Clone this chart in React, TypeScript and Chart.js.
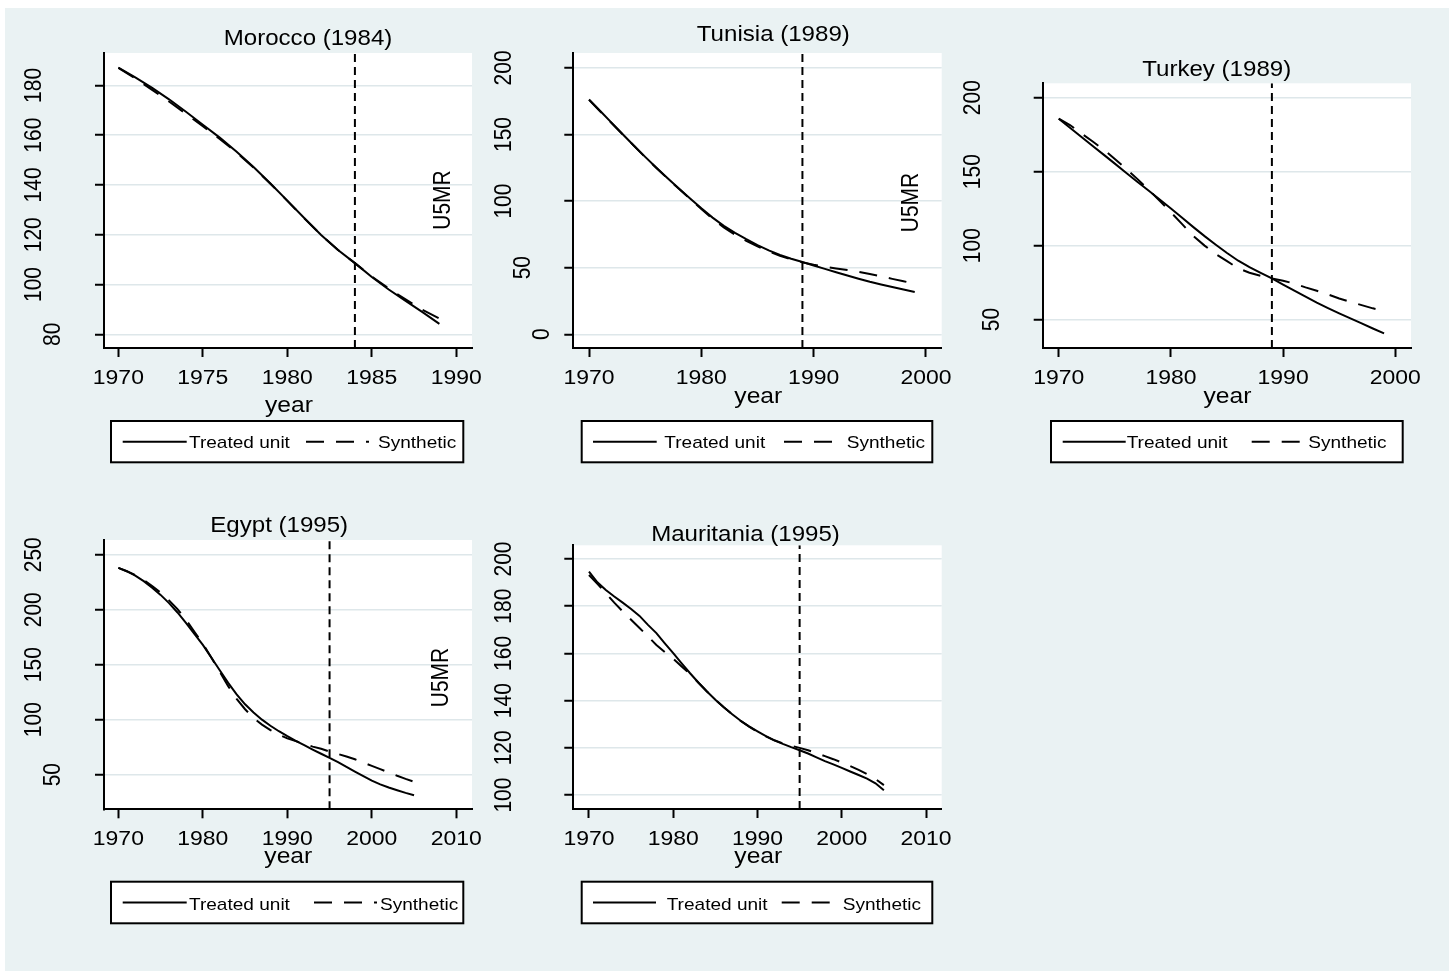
import React, { useEffect, useRef } from "react";
import { Chart, registerables } from "chart.js";

Chart.register(...registerables);

// ---------------- data ----------------
const yearsTo1989 = [1970, 1971, 1972, 1973, 1974, 1975, 1976, 1977, 1978, 1979, 1980, 1981, 1982, 1983, 1984, 1985, 1986, 1987, 1988, 1989];
const yearsTo1999 = [1970, 1971, 1972, 1973, 1974, 1975, 1976, 1977, 1978, 1979, 1980, 1981, 1982, 1983, 1984, 1985, 1986, 1987, 1988, 1989, 1990, 1991, 1992, 1993, 1994, 1995, 1996, 1997, 1998, 1999];
const yearsTo2005 = [1970, 1971, 1972, 1973, 1974, 1975, 1976, 1977, 1978, 1979, 1980, 1981, 1982, 1983, 1984, 1985, 1986, 1987, 1988, 1989, 1990, 1991, 1992, 1993, 1994, 1995, 1996, 1997, 1998, 1999, 2000, 2001, 2002, 2003, 2004, 2005];

const moroccoTreated = [187.1, 183.2, 179.0, 174.4, 169.4, 164.2, 159.0, 153.3, 147.2, 140.6, 133.7, 126.7, 119.9, 113.9, 108.6, 103.0, 98.0, 93.4, 88.9, 84.2];
const moroccoSynthetic = [187.0, 182.8, 178.2, 173.5, 168.6, 163.6, 158.5, 153.0, 147.0, 140.5, 133.6, 126.6, 119.9, 113.9, 108.6, 103.2, 98.4, 94.0, 89.8, 86.3];

const tunisiaTreated = [176.3, 167.6, 158.9, 150.2, 141.6, 133.2, 125.0, 117.1, 109.5, 102.0, 94.6, 87.6, 81.4, 76.1, 71.4, 67.0, 63.0, 59.5, 56.7, 54.3, 51.7, 49.1, 46.6, 44.1, 41.7, 39.4, 37.4, 35.5, 33.6, 31.8];
const tunisiaSynthetic = [176.0, 167.3, 158.6, 150.0, 141.5, 133.0, 124.8, 116.9, 109.2, 101.6, 94.0, 86.8, 80.3, 74.8, 70.2, 66.0, 62.2, 58.9, 56.2, 54.0, 52.2, 50.7, 49.4, 48.2, 46.9, 45.3, 43.5, 41.6, 39.8, 38.0];

const turkeyTreated = [185.8, 179.7, 173.6, 167.5, 161.5, 155.4, 149.3, 143.2, 137.2, 131.2, 125.1, 118.8, 112.5, 106.4, 100.6, 95.0, 89.8, 85.4, 81.5, 77.8, 73.6, 69.5, 65.5, 61.5, 57.8, 54.2, 50.8, 47.4, 44.0, 40.7];
const turkeySynthetic = [185.8, 181.5, 175.9, 170.5, 164.9, 158.6, 152.0, 145.1, 137.8, 130.3, 122.5, 114.5, 106.5, 100.0, 94.3, 89.5, 84.6, 81.7, 79.6, 77.8, 76.3, 74.3, 71.8, 69.5, 67.0, 64.3, 62.0, 59.8, 57.6, 56.0];

const egyptTreated = [238, 235, 231, 226, 220, 213.5, 206, 197.5, 188, 178, 168, 156.5, 145, 133.5, 123, 114, 106.5, 100, 94.5, 89.5, 85, 80.8, 76.8, 72.8, 69.0, 65.3, 61.3, 57.0, 52.8, 48.6, 44.5, 41.2, 38.3, 35.8, 33.4, 31.2];
const egyptSynthetic = [238, 235, 231.5, 227, 221.5, 215.5, 208.5, 200.5, 191, 180, 169, 156.5, 143.5, 130.5, 119, 109.5, 101.5, 95.5, 90.5, 86.5, 83, 80.5, 78, 75.5, 73.5, 71, 68.8, 66.5, 64, 61, 58, 55, 52, 49, 46.2, 43.6];

const mauritaniaTreated = [194.6, 190.1, 186.9, 184.1, 181.5, 178.8, 175.9, 172.1, 168.6, 164.3, 160.1, 155.8, 151.6, 147.6, 143.9, 140.4, 137.2, 134.2, 131.5, 129.1, 127.0, 125.0, 123.2, 121.7, 120.3, 119.0, 117.6, 116.0, 114.4, 113.0, 111.5, 110.0, 108.5, 107.0, 105.0, 102.0];
const mauritaniaSynthetic = [193.2, 189.5, 185.5, 181.5, 177.8, 174.3, 170.8, 167.2, 163.6, 160.6, 157.8, 154.5, 151.2, 147.6, 143.9, 140.4, 137.2, 134.2, 131.4, 129.0, 126.8, 124.9, 123.2, 121.9, 120.9, 120.0, 119.0, 117.8, 116.5, 115.2, 113.8, 112.3, 110.7, 108.9, 106.8, 104.2];

const moroccoXTicks = [1970, 1975, 1980, 1985, 1990];
const decadeTicksTo2000 = [1970, 1980, 1990, 2000];
const decadeTicksTo2010 = [1970, 1980, 1990, 2000, 2010];
const moroccoYTicks = [80, 100, 120, 140, 160, 180];
const tunisiaYTicks = [0, 50, 100, 150, 200];
const turkeyYTicks = [50, 100, 150, 200];
const egyptYTicks = [50, 100, 150, 200, 250];
const mauritaniaYTicks = [100, 120, 140, 160, 180, 200];

const panelTitles = ["Morocco (1984)", "Tunisia (1989)", "Turkey (1989)", "Egypt (1995)", "Mauritania (1995)"];
const treatmentYears = [1984, 1989, 1989, 1995, 1995];
const legendLabels = ["Treated unit", "Synthetic"];
const xAxisTitle = "year";
const yAxisTitle = "U5MR";

// ---------------- layout / style ----------------
const BG = "rgb(234,242,243)";
const GRID = "rgb(222,231,234)";
const FONT = '"Liberation Sans", Arial, Helvetica, sans-serif';
const HS = 1.12; // horizontal stretch of the original picture
const ORIGIN = { x: 5, y: 8 };
const AXIS_BOX = 10;

type Legend = { l: number; t: number; r: number; b: number; s1: number; s2: number; t1: number; d1: number; d2: number; t2: number; base: number };
type PanelCfg = {
  title: string; titleX: number; titleY: number;
  years: number[]; treated: number[]; synthetic: number[]; treatYear: number;
  xTicks: number[]; yTicks: number[];
  xMin: number; xMax: number; yMin: number; yMax: number;
  canvas: { x: number; y: number; w: number; h: number };
  area: { l: number; t: number; r: number; b: number };
  yearX: number; yearY: number;
  u5mr: { x: number; y: number } | null;
  legend: Legend;
};

const PANELS: PanelCfg[] = [
  {
    title: panelTitles[0], titleX: 308, titleY: 44.5,
    years: yearsTo1989, treated: moroccoTreated, synthetic: moroccoSynthetic, treatYear: treatmentYears[0],
    xTicks: moroccoXTicks, yTicks: moroccoYTicks,
    xMin: 1969.15, xMax: 1990.93, yMin: 74.5, yMax: 193,
    canvas: { x: 5, y: 8, w: 492, h: 462 },
    area: { l: 104, t: 53, r: 472, b: 348 },
    yearX: 289, yearY: 412.3,
    u5mr: { x: 443.3, y: 200 },
    legend: { l: 111, t: 421, r: 463.3, b: 462.3, s1: 122.7, s2: 186.7, t1: 189, d1: 306, d2: 369, t2: 378, base: 448.3 },
  },
  {
    title: panelTitles[1], titleX: 773.3, titleY: 40.7,
    years: yearsTo1999, treated: tunisiaTreated, synthetic: tunisiaSynthetic, treatYear: treatmentYears[1],
    xTicks: decadeTicksTo2000, yTicks: tunisiaYTicks,
    xMin: 1968.6, xMax: 2001.4, yMin: -10.3, yMax: 211.2,
    canvas: { x: 475, y: 8, w: 492, h: 462 },
    area: { l: 573.3, t: 53, r: 941.7, b: 348 },
    yearX: 758.3, yearY: 403.3,
    u5mr: { x: 911.7, y: 202.5 },
    legend: { l: 581.7, t: 421, r: 932.3, b: 462.3, s1: 593, s2: 656.7, t1: 664.3, d1: 784, d2: 837, t2: 846.7, base: 448.3 },
  },
  {
    title: panelTitles[2], titleX: 1216.7, titleY: 76,
    years: yearsTo1999, treated: turkeyTreated, synthetic: turkeySynthetic, treatYear: treatmentYears[2],
    xTicks: decadeTicksTo2000, yTicks: turkeyYTicks,
    xMin: 1968.57, xMax: 2001.4, yMin: 30.8, yMax: 209.7,
    canvas: { x: 947, y: 8, w: 500, h: 462 },
    area: { l: 1042.7, t: 83.3, r: 1411, b: 348 },
    yearX: 1227.5, yearY: 403.3,
    u5mr: null,
    legend: { l: 1051, t: 421, r: 1402.7, b: 462.3, s1: 1062.7, s2: 1125.7, t1: 1126.7, d1: 1251.7, d2: 1300, t2: 1308.3, base: 448.3 },
  },
  {
    title: panelTitles[3], titleX: 279.2, titleY: 531.7,
    years: yearsTo2005, treated: egyptTreated, synthetic: egyptSynthetic, treatYear: treatmentYears[3],
    xTicks: decadeTicksTo2010, yTicks: egyptYTicks,
    xMin: 1968.3, xMax: 2011.86, yMin: 18.5, yMax: 263.4,
    canvas: { x: 5, y: 470, w: 492, h: 470 },
    area: { l: 104, t: 540, r: 472, b: 809.3 },
    yearX: 288.3, yearY: 863.3,
    u5mr: { x: 441.7, y: 677.5 },
    legend: { l: 111, t: 881.7, r: 463.3, b: 923.3, s1: 122.7, s2: 186.7, t1: 189, d1: 314, d2: 377, t2: 380, base: 910 },
  },
  {
    title: panelTitles[4], titleX: 745.5, titleY: 540.7,
    years: yearsTo2005, treated: mauritaniaTreated, synthetic: mauritaniaSynthetic, treatYear: treatmentYears[4],
    xTicks: decadeTicksTo2010, yTicks: mauritaniaYTicks,
    xMin: 1968.14, xMax: 2011.86, yMin: 94.1, yMax: 205.8,
    canvas: { x: 475, y: 470, w: 492, h: 470 },
    area: { l: 573.3, t: 545.3, r: 941.7, b: 809 },
    yearX: 758.3, yearY: 863.3,
    u5mr: null,
    legend: { l: 581.7, t: 881.7, r: 932.3, b: 923.3, s1: 593, s2: 656, t1: 666.7, d1: 781.7, d2: 834, t2: 842.7, base: 910 },
  },
];

function txt(
  ctx: CanvasRenderingContext2D, s: string, x: number, y: number, size: number,
  align: CanvasTextAlign, baseline: CanvasTextBaseline, rot = false
) {
  ctx.save();
  ctx.translate(x, y);
  ctx.scale(HS, 1);
  if (rot) ctx.rotate(-Math.PI / 2);
  ctx.font = `${size}px ${FONT}`;
  ctx.fillStyle = "#000";
  ctx.textAlign = align;
  ctx.textBaseline = baseline;
  ctx.fillText(s, 0, 0);
  ctx.restore();
}

function Panel({ cfg }: { cfg: PanelCfg }) {
  const ref = useRef<HTMLCanvasElement>(null);
  const c = cfg.canvas;

  useEffect(() => {
    const canvas = ref.current;
    if (!canvas) return;
    const ox = c.x;
    const oy = c.y;
    const a = cfg.area;
    const padding = {
      left: a.l - ox - AXIS_BOX,
      top: a.t - oy,
      right: c.w - (a.r - ox),
      bottom: c.h - AXIS_BOX - (a.b - oy),
    };

    const stataPlugin = {
      id: "stataDecor",
      beforeDraw(chart: any) {
        const { ctx, chartArea } = chart;
        ctx.save();
        ctx.fillStyle = "#fff";
        ctx.fillRect(chartArea.left, chartArea.top, chartArea.right - chartArea.left, chartArea.bottom - chartArea.top);
        ctx.restore();
      },
      afterDraw(chart: any) {
        const ctx: CanvasRenderingContext2D = chart.ctx;
        const xs = chart.scales.x;
        const ys = chart.scales.y;
        // title
        txt(ctx, cfg.title, cfg.titleX - ox, cfg.titleY - oy, 21.5, "center", "alphabetic");
        // x tick labels
        xs.ticks.forEach((t: any) => {
          txt(ctx, String(t.value), xs.getPixelForValue(t.value), a.b - oy + 35.5, 20.5, "center", "alphabetic");
        });
        // y tick labels (rotated)
        ys.ticks.forEach((t: any) => {
          const s = String(t.value);
          txt(ctx, s, a.l - ox - 31 - (s.length - 1) * 19, ys.getPixelForValue(t.value), 21, "center", "middle", true);
        });
        // x axis title
        txt(ctx, xAxisTitle, cfg.yearX - ox, cfg.yearY - oy, 22, "center", "alphabetic");
        // U5MR label
        if (cfg.u5mr) txt(ctx, yAxisTitle, cfg.u5mr.x - ox, cfg.u5mr.y - oy, 21, "center", "middle", true);
        // legend
        const L = cfg.legend;
        const ly = (L.t + L.b) / 2 - oy;
        ctx.save();
        ctx.fillStyle = "#fff";
        ctx.fillRect(L.l - ox, L.t - oy, L.r - L.l, L.b - L.t);
        ctx.strokeStyle = "#000";
        ctx.lineWidth = 2;
        ctx.strokeRect(L.l - ox, L.t - oy, L.r - L.l, L.b - L.t);
        ctx.lineWidth = 2;
        ctx.beginPath();
        ctx.moveTo(L.s1 - ox, ly);
        ctx.lineTo(L.s2 - ox, ly);
        ctx.stroke();
        ctx.setLineDash([18, 12]);
        ctx.beginPath();
        ctx.moveTo(L.d1 - ox, ly);
        ctx.lineTo(L.d2 - ox, ly);
        ctx.stroke();
        ctx.restore();
        txt(ctx, legendLabels[0], L.t1 - ox, L.base - oy, 17, "left", "alphabetic");
        txt(ctx, legendLabels[1], L.t2 - ox, L.base - oy, 17, "left", "alphabetic");
      },
    };

    const toXY = (vals: number[]) => cfg.years.map((yr, i) => ({ x: yr, y: vals[i] }));

    const chart = new Chart(canvas, {
      type: "line",
      data: {
        datasets: [
          {
            label: "treatment year",
            data: [
              { x: cfg.treatYear, y: cfg.yMin },
              { x: cfg.treatYear, y: cfg.yMax },
            ],
            borderColor: "#000",
            borderWidth: 2,
            borderDash: [8, 5],
            pointRadius: 0,
            fill: false,
          },
          {
            label: legendLabels[0],
            data: toXY(cfg.treated),
            borderColor: "#000",
            borderWidth: 2,
            pointRadius: 0,
            tension: 0,
            fill: false,
          },
          {
            label: legendLabels[1],
            data: toXY(cfg.synthetic),
            borderColor: "#000",
            borderWidth: 2,
            borderDash: [18, 12],
            pointRadius: 0,
            tension: 0,
            fill: false,
          },
        ],
      },
      options: {
        responsive: false,
        animation: false,
        devicePixelRatio: 1,
        events: [],
        layout: { padding },
        plugins: {
          legend: { display: false },
          title: { display: false },
          tooltip: { enabled: false },
        },
        scales: {
          x: {
            type: "linear",
            bounds: "data",
            min: cfg.xMin,
            max: cfg.xMax,
            afterBuildTicks: (s: any) => {
              s.ticks = cfg.xTicks.map((v) => ({ value: v }));
            },
            afterFit: (s: any) => {
              s.height = AXIS_BOX;
            },
            grid: { display: true, drawOnChartArea: false, drawTicks: true, tickLength: 9, tickColor: "#000", tickWidth: 2 },
            border: { display: true, color: "#000", width: 2 },
            ticks: { display: false },
          },
          y: {
            type: "linear",
            bounds: "data",
            min: cfg.yMin,
            max: cfg.yMax,
            afterBuildTicks: (s: any) => {
              s.ticks = cfg.yTicks.map((v) => ({ value: v }));
            },
            afterFit: (s: any) => {
              s.width = AXIS_BOX;
            },
            grid: { display: true, color: GRID, lineWidth: 1.5, drawOnChartArea: true, drawTicks: true, tickLength: 9, tickColor: "#000", tickWidth: 2 },
            border: { display: true, color: "#000", width: 2 },
            ticks: { display: false },
          },
        },
      },
      plugins: [stataPlugin],
    } as any);

    return () => chart.destroy();
  }, [cfg]);

  return (
    <canvas
      ref={ref}
      width={c.w}
      height={c.h}
      style={{ position: "absolute", left: c.x - ORIGIN.x, top: c.y - ORIGIN.y, width: c.w, height: c.h }}
    />
  );
}

export default function App() {
  return (
    <div
      style={{
        position: "absolute",
        left: ORIGIN.x,
        top: ORIGIN.y,
        width: 1449 - ORIGIN.x,
        height: 971 - ORIGIN.y,
        background: BG,
        overflow: "hidden",
      }}
    >
      {PANELS.map((p, i) => (
        <Panel key={i} cfg={p} />
      ))}
    </div>
  );
}
